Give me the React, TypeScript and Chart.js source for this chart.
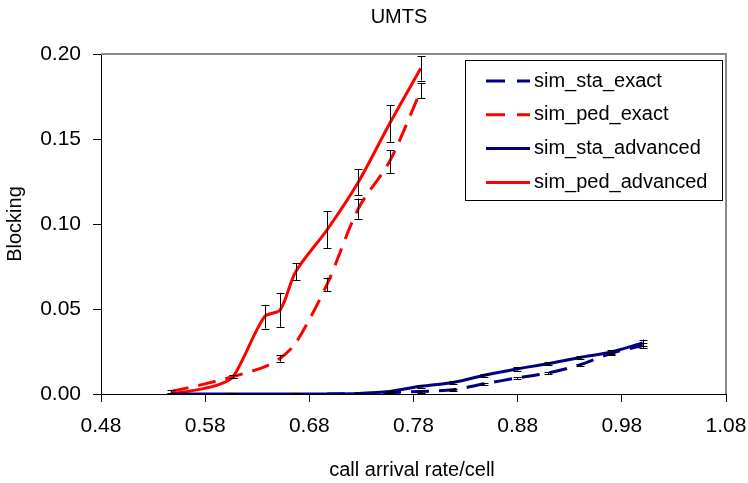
import React, { useEffect, useRef } from "react";
import { Chart, registerables } from "chart.js";

Chart.register(...registerables);

const titleText = "UMTS";
const xTitle = "call arrival rate/cell";
const yTitle = "Blocking";

const xTickValues = [0.48, 0.58, 0.68, 0.78, 0.88, 0.98, 1.08];
const yTickValues = [0.0, 0.05, 0.1, 0.15, 0.2];

// sim_sta_exact (blue dashed)
const staExactX = [0.697, 0.727, 0.757, 0.787, 0.818, 0.848, 0.879, 0.909, 0.94, 0.97, 1.0];
const staExactY = [0.0, 0.0003, 0.0008, 0.0015, 0.0025, 0.006, 0.0094, 0.0123, 0.0172, 0.024, 0.0285];
const staExactErr = [null, null, 0.0005, 0.0008, 0.0005, 0.0005, 0.0005, 0.0008, 0.0005, 0.0008, 0.0015];

// sim_ped_exact (red dashed)
const pedExactX = [0.547, 0.577, 0.607, 0.637, 0.652, 0.667, 0.697, 0.727, 0.757, 0.787];
const pedExactY = [0.0015, 0.0055, 0.0103, 0.016, 0.021, 0.03, 0.0645, 0.109, 0.1368, 0.1785];
const pedExactErr = [0.0008, null, 0.001, null, 0.002, null, 0.004, 0.006, 0.0068, 0.0045];

// sim_sta_advanced (blue solid)
const staAdvX = [0.547, 0.607, 0.667, 0.697, 0.727, 0.757, 0.787, 0.818, 0.848, 0.879, 0.909, 0.94, 0.97, 1.0];
const staAdvY = [0.0, 0.0, 0.0, 0.0, 0.0003, 0.0015, 0.0045, 0.0068, 0.011, 0.0147, 0.0178, 0.0215, 0.0247, 0.03];
const staAdvErr = [null, 0.0003, 0.0003, null, 0.0003, 0.0005, 0.0008, 0.0008, 0.0008, 0.001, 0.0008, 0.0008, 0.0012, 0.002];

// sim_ped_advanced (red solid)
const pedAdvX = [0.547, 0.577, 0.593, 0.607, 0.637, 0.652, 0.667, 0.697, 0.727, 0.757, 0.787];
const pedAdvY = [0.0, 0.003, 0.0055, 0.0103, 0.0455, 0.0495, 0.072, 0.0966, 0.1246, 0.159, 0.1916];
const pedAdvErr = [0.0008, null, null, 0.001, 0.007, 0.01, 0.005, 0.011, 0.0077, 0.0108, 0.0072];

const seriesNames = ["sim_sta_exact", "sim_ped_exact", "sim_sta_advanced", "sim_ped_advanced"];

const NAVY = "#000080";
const RED = "#FF0000";
const FONT = "'Liberation Sans', Arial, sans-serif";
const DASH = [18, 10];

function pts(xs: number[], ys: number[]) {
  return xs.map((x, i) => ({ x, y: ys[i] }));
}

const errorBarPlugin = {
  id: "errorBars",
  afterDatasetsDraw(chart: any) {
    const ctx = chart.ctx;
    const xs = chart.scales.x;
    const ys = chart.scales.y;
    ctx.save();
    ctx.strokeStyle = "#000";
    ctx.lineWidth = 1;
    chart.data.datasets.forEach((ds: any) => {
      const errs = ds.errors as (number | null)[];
      if (!errs) return;
      ds.data.forEach((p: any, i: number) => {
        const e = errs[i];
        if (e == null) return;
        const px = Math.round(xs.getPixelForValue(p.x)) + 0.5;
        const top = ys.getPixelForValue(p.y + e);
        const bot = ys.getPixelForValue(Math.max(p.y - e, 0));
        ctx.beginPath();
        ctx.moveTo(px, top);
        ctx.lineTo(px, bot);
        ctx.moveTo(px - 4, Math.round(top) + 0.5);
        ctx.lineTo(px + 4, Math.round(top) + 0.5);
        ctx.moveTo(px - 4, Math.round(bot) + 0.5);
        ctx.lineTo(px + 4, Math.round(bot) + 0.5);
        ctx.stroke();
      });
    });
    ctx.restore();
  },
};

const decorPlugin = {
  id: "decor",
  afterDraw(chart: any) {
    const ctx = chart.ctx;
    const a = chart.chartArea;
    ctx.save();
    // gray frame top/right
    ctx.strokeStyle = "#888888";
    ctx.lineWidth = 2;
    ctx.beginPath();
    ctx.moveTo(a.left, a.top);
    ctx.lineTo(a.right, a.top);
    ctx.lineTo(a.right, a.bottom);
    ctx.stroke();

    // titles
    ctx.fillStyle = "#000";
    ctx.textAlign = "center";
    ctx.textBaseline = "middle";
    ctx.font = `20px ${FONT}`;
    ctx.fillText(titleText, 399, 17);
    ctx.fillText(xTitle, 412, 470);
    ctx.save();
    ctx.translate(15, 224);
    ctx.rotate(-Math.PI / 2);
    ctx.fillText(yTitle, 0, 0);
    ctx.restore();

    // legend
    const bx = 465;
    const by = 60;
    const bw = 257;
    const bh = 140;
    ctx.fillStyle = "#fff";
    ctx.fillRect(bx, by, bw, bh);
    ctx.strokeStyle = "#000";
    ctx.lineWidth = 1;
    ctx.strokeRect(bx + 0.5, by + 0.5, bw, bh);
    const styles = [
      { c: NAVY, d: true },
      { c: RED, d: true },
      { c: NAVY, d: false },
      { c: RED, d: false },
    ];
    ctx.font = `20px ${FONT}`;
    ctx.textAlign = "left";
    seriesNames.forEach((name, i) => {
      const cy = by + 21 + i * 33.8;
      ctx.strokeStyle = styles[i].c;
      ctx.lineWidth = 3;
      ctx.setLineDash(styles[i].d ? [19, 12] : []);
      ctx.beginPath();
      ctx.moveTo(bx + 21, cy);
      ctx.lineTo(bx + 65, cy);
      ctx.stroke();
      ctx.setLineDash([]);
      ctx.fillStyle = "#000";
      ctx.fillText(name, bx + 69, cy);
    });
    ctx.restore();
  },
};

export default function App() {
  const ref = useRef<HTMLCanvasElement>(null);
  useEffect(() => {
    if (!ref.current) return;
    const mk = (label: string, xs: number[], ys: number[], errs: any[], color: string, dashed: boolean) => ({
      label,
      data: pts(xs, ys),
      errors: errs,
      borderColor: color,
      backgroundColor: color,
      borderWidth: 3,
      borderDash: dashed ? DASH : [],
      pointRadius: 0,
      tension: 0.3,
      fill: false,
    });
    const tickFont = { family: FONT, size: 21 };
    const chart = new Chart(ref.current, {
      type: "line",
      data: {
        datasets: [
          mk(seriesNames[2], staAdvX, staAdvY, staAdvErr, NAVY, false),
          mk(seriesNames[0], staExactX, staExactY, staExactErr, NAVY, true),
          mk(seriesNames[1], pedExactX, pedExactY, pedExactErr, RED, true),
          mk(seriesNames[3], pedAdvX, pedAdvY, pedAdvErr, RED, false),
        ] as any,
      },
      options: {
        animation: false,
        responsive: false,
        devicePixelRatio: 1,
        layout: { padding: { top: 54, right: 22, left: 0, bottom: 0 } },
        plugins: { legend: { display: false }, tooltip: { enabled: false }, title: { display: false } },
        scales: {
          x: {
            type: "linear",
            min: 0.48,
            max: 1.08,
            afterBuildTicks: (s: any) => {
              s.ticks = xTickValues.map((v) => ({ value: v }));
            },
            afterFit: (s: any) => {
              s.height = 89;
              s.paddingLeft = 0;
              s.paddingRight = 0;
            },
            ticks: {
              callback: (v: any) => Number(v).toFixed(2),
              font: tickFont,
              color: "#000",
              padding: 12,
              maxRotation: 0,
              autoSkip: false,
            },
            grid: { display: true, drawOnChartArea: false, drawTicks: true, tickLength: 8, color: "#000" },
            border: { display: true, color: "#000", width: 1 },
          },
          y: {
            type: "linear",
            min: 0,
            max: 0.2,
            afterBuildTicks: (s: any) => {
              s.ticks = yTickValues.map((v) => ({ value: v }));
            },
            afterFit: (s: any) => {
              s.width = 101;
              s.paddingTop = 0;
              s.paddingBottom = 0;
            },
            ticks: {
              callback: (v: any) => Number(v).toFixed(2),
              font: tickFont,
              color: "#000",
              padding: 12,
              autoSkip: false,
            },
            grid: { display: true, drawOnChartArea: false, drawTicks: true, tickLength: 8, color: "#000" },
            border: { display: true, color: "#000", width: 1 },
          },
        },
      } as any,
      plugins: [errorBarPlugin, decorPlugin],
    });
    return () => chart.destroy();
  }, []);
  return (
    <div style={{ position: "fixed", left: 0, top: 0, width: 748, height: 483, background: "#fff" }}>
      <canvas ref={ref} width={748} height={483} style={{ width: 748, height: 483, display: "block" }} />
    </div>
  );
}
